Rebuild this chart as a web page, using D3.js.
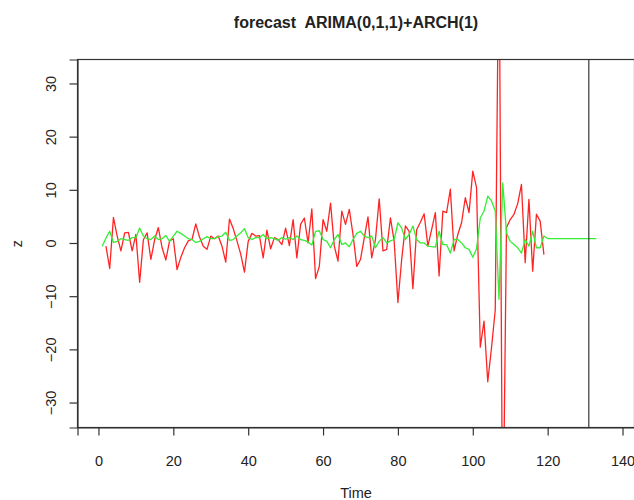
<!DOCTYPE html>
<html>
<head>
<meta charset="utf-8">
<script src="https://cdn.jsdelivr.net/npm/d3@7"></script>
<style>
  html, body { margin: 0; padding: 0; background: #fff; }
  svg { display: block; }
  text { font-family: "Liberation Sans", Arial, sans-serif; fill: #222; }
</style>
</head>
<body>
<svg id="chart" width="634" height="500"></svg>
<script>
// ---- data ----
const titleText = "forecast  ARIMA(0,1,1)+ARCH(1)";
const xLabel = "Time";
const yLabel = "z";
const xTicks = [0, 20, 40, 60, 80, 100, 120, 140];
const yTicks = [-30, -20, -10, 0, 10, 20, 30];

// red series (observed z), starts at t = 2
const redStart = 2;
const redValues = [
  -0.5, -4.7, 4.9, 1.4, -1.4, 2, 2.1, -1.4, 1.7, -7.3,       // 2-11
  0.7, 2, -3, 0.7, 3, -0.8, -3.1, 0.5, 0.9, -4.9,            // 12-21
  -2.6, -0.8, 0.5, 0.8, 3.7, 1.2, -0.5, -1.1, 1.4, 0.9,      // 22-31
  1.4, -0.5, -3.5, 4.6, 2.8, 0.5, -2, -5.4, 0.4, 1.9,        // 32-41
  1.4, 1.5, -2.7, 2.5, -1, 1.1, 0.75, -0.2, 2.9, -0.4,       // 42-51
  4.5, -2.7, 3.6, 4.8, 0.1, 6.5, -6.6, -4.3, 4.5, 2.3,       // 52-61
  7.6, -0.5, -3.3, 6.1, 3.6, 6.4, 1.7, -4.3, -3, 1,          // 62-71
  5, -2.7, 0.75, 8.4, -1.4, -1.1, 4.8, 0.4, -11.1, -3,       // 72-81
  3.3, 2.3, -8.5, 2.6, 4, 5.6, -0.5, 2.6, 5.8, -6.1,         // 82-91
  6.1, 5.8, 10.2, -1.4, 1.7, 3.9, 8.6, 5.8, 13.6, 10.5,      // 92-101
  -19.5, -14.6, -26, -19.6, -12.5, 60, -60, 3, 4.5, 5.5,     // 102-111
  7.5, 11.1, -3.6, 8.3, -5.2, 5.5, 4.2, -2.1                 // 112-119
];

// green series (fitted + forecast), starts at t = 1
const greenStart = 1;
const greenValues = [
  -0.5, 1, 2.3, 0.2, 0.4, 0.9, 0.75, 0.6, 1.1, 1.1,          // 1-10
  2.9, 1.4, 0.9, 0.75, 1.4, 0.75, 0.9, 1.5, 0.4, 1.4,        // 11-20
  2.3, 1.9, 1.4, 0.9, 0.75, 0.2, 0.4, 0.9, 1.3, 0.9,         // 21-30
  0.9, 1.3, 1.4, 2.1, 0.6, 0.75, 1.4, 2, 2.8, 1.1,           // 31-40
  0.75, 1.1, 1.1, 1.7, 0.9, 1.1, 0.9, 0.6, 1.1, 0.8,         // 41-50
  1.1, 0.75, 1.4, 0.75, 0.6, 0.3, -0.3, 2.3, 2.4, 0.75,      // 51-60
  0.4, -0.8, 0.75, 1.7, -0.2, 0.1, -0.6, 0.75, 1.9, 2.3,     // 61-70
  1.4, 1.1, 1.4, -0.8, 0.4, 1.1, 0.1, 0.5, 0.75, 3.9,        // 71-80
  2.9, 0.75, 1.7, 3.3, 0.75, 0.1, 0.1, -0.5, -0.6, -0.7,     // 81-90
  2.3, -0.2, -0.2, -1.8, 0.75, 0.75, 0.1, -0.8, -1.1, -2.6,  // 91-100
  -1, 4.8, 6.1, 8.9, 8, 6.1, -10.5, 11.4, 2, 0.4,            // 101-110
  -0.2, -0.8, -1.8, 0.75, -0.5, 2.3, -0.8, -0.8, 1.4,        // 111-119
  0.93, 0.93, 0.93, 0.93, 0.93, 0.93, 0.93, 0.93, 0.93, 0.93, 0.93, 0.93, 0.93, 0.93 // 120-133
];

const vLineTime = [131];

// ---- layout ----
const svg = d3.select("#chart");
const plot = { left: 77.5, right: 634.5, top: 59.5, bottom: 427.5 };

const x = d3.scaleLinear().domain([-5.6, 143.2]).range([plot.left, plot.right]);
const y = d3.scaleLinear().domain([-34.6, 34.6]).range([plot.bottom, plot.top]);

svg.append("defs").append("clipPath").attr("id", "clip")
  .append("rect")
  .attr("x", plot.left).attr("y", plot.top)
  .attr("width", plot.right - plot.left).attr("height", plot.bottom - plot.top);

const redData = redValues.map((v, i) => ({ t: redStart + i, v }));
const greenData = greenValues.map((v, i) => ({ t: greenStart + i, v }));

const line = d3.line().x(d => x(d.t)).y(d => y(d.v));

const g = svg.append("g").attr("clip-path", "url(#clip)");

g.append("path").datum(redData)
  .attr("d", line)
  .attr("fill", "none")
  .attr("stroke", "#ff2424")
  .attr("stroke-width", 1.3)
  .attr("stroke-linejoin", "round");

g.append("path").datum(greenData)
  .attr("d", line)
  .attr("fill", "none")
  .attr("stroke", "#33ee33")
  .attr("stroke-width", 1.3)
  .attr("stroke-linejoin", "round");

g.selectAll("line.vline").data(vLineTime).enter().append("line")
  .attr("class", "vline")
  .attr("x1", d => x(d)).attr("x2", d => x(d))
  .attr("y1", plot.top).attr("y2", plot.bottom)
  .attr("stroke", "#222").attr("stroke-width", 1.1);

// box
svg.append("rect")
  .attr("x", plot.left).attr("y", plot.top)
  .attr("width", plot.right - plot.left).attr("height", plot.bottom - plot.top)
  .attr("fill", "none").attr("stroke", "#333").attr("stroke-width", 1.2);

// x axis
const xAxis = d3.axisBottom(x).tickValues(xTicks).tickSize(8).tickPadding(20).tickFormat(d3.format("d"));
const xa = svg.append("g").attr("transform", `translate(0,${plot.bottom})`).call(xAxis);
xa.selectAll("path, line").attr("stroke", "#333").attr("stroke-width", 1.2);
xa.selectAll("text").style("font-size", "14.5px").style("font-family", "Liberation Sans, Arial, sans-serif").attr("fill", "#222");

// y axis
const yAxis = d3.axisLeft(y).tickValues(yTicks).tickSize(8).tickPadding(0).tickFormat(d3.format("d"));
const ya = svg.append("g").attr("transform", `translate(${plot.left},0)`).call(yAxis);
ya.selectAll("path, line").attr("stroke", "#333").attr("stroke-width", 1.2);
ya.selectAll("text")
  .attr("x", null).attr("dy", null)
  .attr("text-anchor", "middle")
  .attr("transform", d => `translate(-22,${y(d)}) rotate(-90)`)
  .attr("y", 0)
  .style("font-size", "14.5px").style("font-family", "Liberation Sans, Arial, sans-serif").attr("fill", "#222");
ya.selectAll(".tick").attr("transform", null);
ya.selectAll(".tick line").attr("y1", d => y(d)).attr("y2", d => y(d));

// title
svg.append("text")
  .attr("x", (plot.left + plot.right) / 2).attr("y", 28)
  .attr("text-anchor", "middle")
  .attr("xml:space", "preserve")
  .style("white-space", "pre")
  .style("font-size", "16px").style("font-weight", "bold")
  .text(titleText);

// axis titles
svg.append("text")
  .attr("x", (plot.left + plot.right) / 2).attr("y", 498)
  .attr("text-anchor", "middle")
  .style("font-size", "14.5px")
  .text(xLabel);

svg.append("text")
  .attr("transform", `translate(22,${(plot.top + plot.bottom) / 2}) rotate(-90)`)
  .attr("text-anchor", "middle")
  .style("font-size", "14.5px")
  .text(yLabel);
</script>
</body>
</html>
